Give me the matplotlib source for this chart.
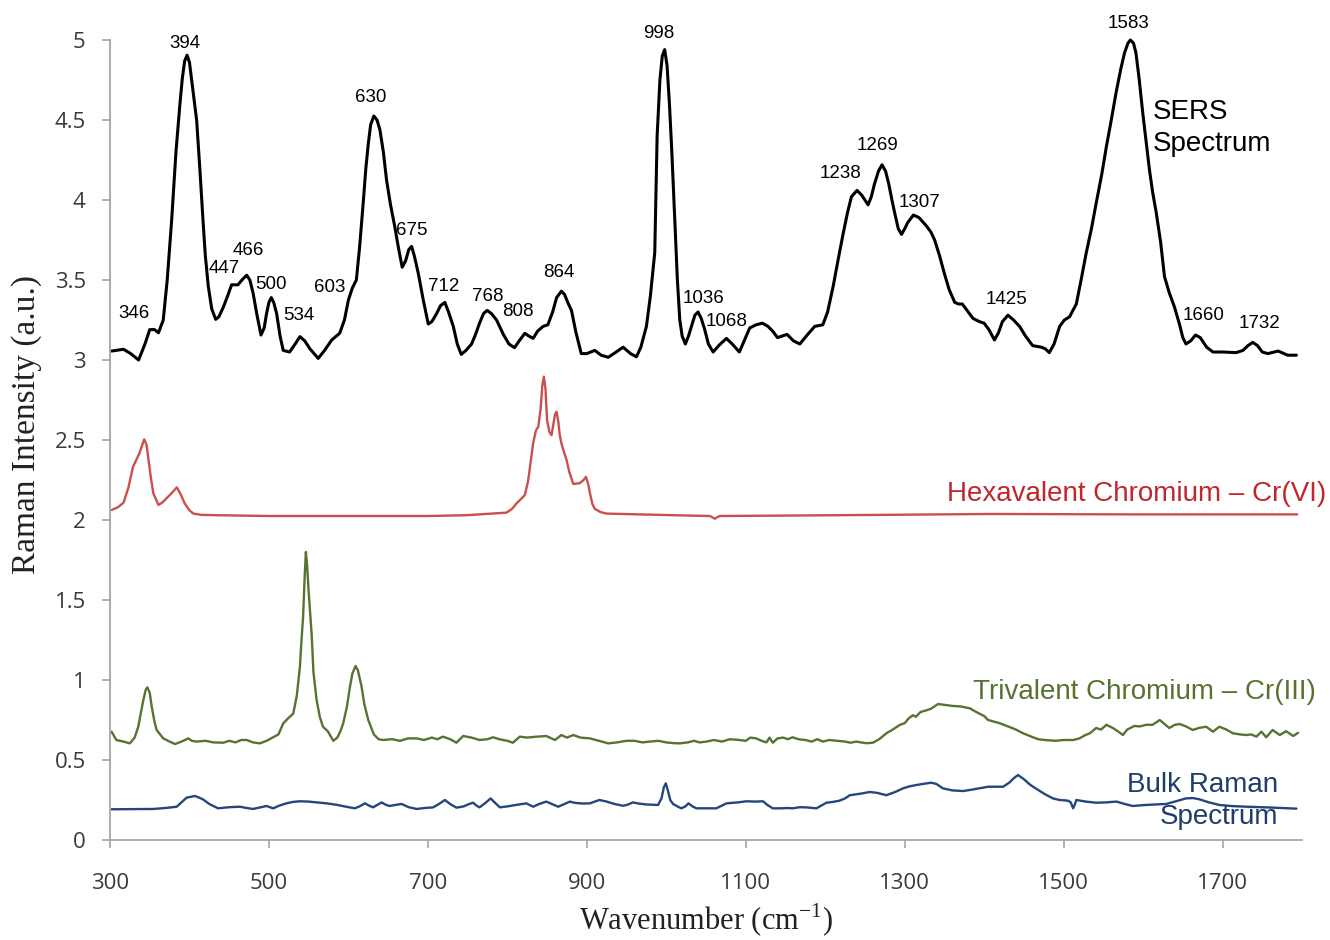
import matplotlib
matplotlib.use("Agg")
import matplotlib.pyplot as plt
from matplotlib.ticker import FuncFormatter

# ---------------- data ----------------
sers_x = [302, 317, 326, 336, 344, 350, 356, 361, 367, 372, 377.6, 383, 388, 391, 394, 397, 400, 403, 409, 413, 417,
          420, 423.7, 428, 433, 437, 442.6, 448, 453, 461, 466, 472, 476, 480, 485, 490, 494, 497, 500, 503, 506,
          509.7, 514, 518, 526, 533, 539, 545, 551.6, 562, 570, 579, 589, 595, 600, 605, 610, 614, 618.6, 622, 625,
          628, 632, 636, 639.6, 644, 648, 653, 658.5, 663, 667.7, 672, 676, 679.5, 683, 688, 694, 700.5, 705, 711,
          716, 721.4, 726, 732, 737, 742, 748, 755, 760, 765, 770, 774.6, 780, 786.4, 795, 802, 809, 815, 822, 827,
          832.5, 838, 845, 851, 857, 862, 868, 872, 876, 880.7, 886, 893, 900, 910, 918, 927, 937, 945.7, 955,
          962.5, 968, 975, 980, 985.5, 988.5, 992, 995, 998, 1001, 1004, 1007, 1010.7, 1014, 1017, 1020, 1024,
          1028, 1031.7, 1036, 1040, 1044, 1048.4, 1053, 1059, 1066, 1075.7, 1083, 1092, 1098, 1105, 1113, 1121,
          1128, 1134, 1140, 1146, 1152, 1160, 1168, 1178, 1186.8, 1197, 1203, 1210, 1216, 1222.6, 1228, 1233,
          1240, 1246, 1254, 1258, 1262, 1267, 1271.5, 1276, 1280, 1284, 1287.4, 1292, 1296, 1300, 1304, 1311,
          1318, 1327, 1333, 1337.7, 1344, 1350, 1356, 1363, 1368, 1372.5, 1380, 1386, 1394, 1400, 1406, 1413,
          1418, 1423, 1430, 1437, 1444.6, 1452, 1461, 1472, 1477, 1482, 1488, 1495, 1501, 1507.5, 1516, 1522,
          1528.5, 1535, 1541, 1548, 1553.7, 1560, 1566, 1572, 1576.7, 1581, 1584, 1588, 1591, 1595, 1599.7, 1604,
          1608, 1612, 1616.6, 1622, 1627, 1633, 1639.6, 1646, 1650, 1654, 1660, 1666, 1672, 1680, 1688, 1700,
          1717, 1725.7, 1732, 1738, 1744, 1750, 1757, 1770, 1782, 1793]
sers_y = [3.056, 3.067, 3.04, 3.00, 3.10, 3.19, 3.19, 3.17, 3.25, 3.50, 3.875, 4.30, 4.60, 4.76, 4.87, 4.905, 4.86,
          4.74, 4.50, 4.20, 3.875, 3.65, 3.46, 3.32, 3.254, 3.27, 3.33, 3.40, 3.47, 3.47, 3.50, 3.53, 3.50, 3.42,
          3.28, 3.156, 3.20, 3.29, 3.36, 3.39, 3.36, 3.29, 3.15, 3.06, 3.05, 3.10, 3.146, 3.12, 3.07, 3.01, 3.06,
          3.125, 3.167, 3.25, 3.375, 3.45, 3.50, 3.70, 3.98, 4.20, 4.35, 4.47, 4.525, 4.50, 4.44, 4.30, 4.125,
          3.97, 3.83, 3.70, 3.58, 3.62, 3.69, 3.71, 3.65, 3.54, 3.38, 3.225, 3.24, 3.29, 3.34, 3.36, 3.30, 3.21,
          3.10, 3.035, 3.06, 3.10, 3.16, 3.23, 3.29, 3.31, 3.29, 3.25, 3.16, 3.10, 3.077, 3.12, 3.167, 3.15,
          3.135, 3.18, 3.21, 3.22, 3.30, 3.39, 3.43, 3.41, 3.36, 3.31, 3.18, 3.04, 3.04, 3.06, 3.03, 3.017, 3.05,
          3.08, 3.04, 3.02, 3.08, 3.21, 3.40, 3.67, 4.40, 4.75, 4.90, 4.94, 4.84, 4.60, 4.30, 3.875, 3.50, 3.25,
          3.15, 3.10, 3.15, 3.21, 3.28, 3.30, 3.26, 3.19, 3.10, 3.05, 3.09, 3.135, 3.10, 3.05, 3.12, 3.20, 3.22,
          3.23, 3.21, 3.18, 3.14, 3.15, 3.16, 3.12, 3.10, 3.16, 3.21, 3.22, 3.30, 3.46, 3.62, 3.79, 3.92, 4.02,
          4.06, 4.03, 3.97, 4.02, 4.10, 4.18, 4.22, 4.18, 4.10, 4.00, 3.92, 3.82, 3.785, 3.82, 3.86, 3.906, 3.89,
          3.84, 3.80, 3.75, 3.65, 3.54, 3.44, 3.36, 3.35, 3.35, 3.30, 3.26, 3.24, 3.23, 3.19, 3.125, 3.17, 3.24,
          3.28, 3.25, 3.21, 3.15, 3.09, 3.08, 3.07, 3.046, 3.10, 3.21, 3.25, 3.27, 3.35, 3.50, 3.67, 3.82, 3.98,
          4.16, 4.33, 4.50, 4.67, 4.82, 4.92, 4.98, 5.00, 4.98, 4.92, 4.76, 4.54, 4.36, 4.19, 4.05, 3.92, 3.74,
          3.52, 3.42, 3.33, 3.22, 3.14, 3.10, 3.12, 3.156, 3.14, 3.08, 3.05, 3.05, 3.046, 3.06, 3.09, 3.11, 3.09,
          3.05, 3.04, 3.056, 3.03, 3.03]

cr6_x = [302, 310, 317, 323, 329, 337, 343, 346, 348, 351, 354.5, 361, 366, 371, 378, 384, 389, 394, 400, 405, 415,
         434, 500, 581, 700, 749, 799, 806, 811.6, 817, 822, 826, 828, 832.5, 836, 839, 842, 844, 846, 848, 850,
         853, 855.6, 858, 860, 862, 864, 866, 868, 871, 874.5, 878, 883, 891, 896, 899, 902, 904, 907, 910, 917,
         925, 1008.6, 1055, 1061, 1067, 1218, 1407, 1600, 1794]
cr6_y = [2.0625, 2.08, 2.108, 2.20, 2.333, 2.417, 2.504, 2.47, 2.395, 2.28, 2.167, 2.094, 2.11, 2.135, 2.17, 2.204,
         2.16, 2.104, 2.06, 2.04, 2.032, 2.03, 2.025, 2.025, 2.025, 2.03, 2.046, 2.07, 2.104, 2.13, 2.156, 2.24,
         2.3125, 2.48, 2.56, 2.583, 2.70, 2.84, 2.896, 2.82, 2.625, 2.55, 2.53, 2.60, 2.66, 2.677, 2.62, 2.53,
         2.48, 2.43, 2.375, 2.30, 2.225, 2.23, 2.25, 2.27, 2.22, 2.167, 2.10, 2.07, 2.05, 2.04, 2.03, 2.025,
         2.008, 2.025, 2.03, 2.0375, 2.035, 2.035]

cr3_x = [302, 308, 317, 325, 331, 335.6, 339, 342, 345, 347, 350, 352.5, 356, 358.7, 367, 375, 381.8, 390, 398.5,
         403, 409, 420, 430, 442.6, 450, 458, 465, 472, 480, 488.7, 497, 505.4, 512, 518, 524, 530.6, 535, 539,
         541, 543, 545, 546.5, 548, 550, 553.7, 556, 560, 564, 568, 574, 581, 586, 590, 593.5, 598, 602, 605,
         609, 612, 616.6, 620, 625, 632, 638, 643.8, 655, 665, 675, 686, 695, 705, 712, 719, 728, 736, 744.4,
         755, 765, 775, 782, 790, 800, 807, 815.7, 825, 835, 849, 860, 868, 875, 883, 892, 904, 915, 927, 938,
         950, 960, 970, 979, 990, 1000, 1010, 1017, 1027, 1035, 1042, 1050.6, 1060, 1070, 1080, 1092, 1100,
         1106, 1113, 1120, 1126, 1130, 1134, 1140, 1147, 1153, 1159, 1166, 1175, 1183, 1190, 1197, 1205, 1215,
         1225, 1232, 1239, 1245, 1252, 1260, 1268, 1277, 1285, 1294, 1300, 1305, 1310.5, 1314, 1320, 1327,
         1333, 1342, 1350, 1361, 1370, 1382, 1390, 1394, 1400, 1405, 1412, 1419.5, 1430, 1440, 1449, 1460,
         1468, 1476, 1490, 1500, 1512, 1520, 1527, 1533, 1541, 1547, 1554, 1558, 1562, 1568, 1574.7, 1580,
         1589, 1596, 1604, 1612, 1621, 1627, 1633, 1640, 1646, 1654, 1662.6, 1670, 1679.5, 1688, 1696, 1705,
         1713, 1722, 1730, 1736, 1742.6, 1749, 1755, 1763, 1772, 1780, 1789, 1795]
cr3_y = [0.677, 0.625, 0.615, 0.604, 0.64, 0.708, 0.80, 0.875, 0.94, 0.954, 0.92, 0.833, 0.74, 0.6875, 0.635, 0.615,
         0.60, 0.615, 0.635, 0.62, 0.615, 0.62, 0.61, 0.608, 0.62, 0.61, 0.625, 0.625, 0.61, 0.604, 0.62, 0.642,
         0.66, 0.729, 0.76, 0.79, 0.90, 1.083, 1.25, 1.396, 1.65, 1.80, 1.72, 1.55, 1.29, 1.05, 0.875, 0.77,
         0.708, 0.68, 0.62, 0.64, 0.68, 0.73, 0.83, 0.958, 1.04, 1.0875, 1.06, 0.958, 0.85, 0.75, 0.66, 0.63,
         0.625, 0.63, 0.62, 0.635, 0.635, 0.625, 0.64, 0.63, 0.646, 0.63, 0.608, 0.65, 0.64, 0.625, 0.63, 0.642,
         0.63, 0.62, 0.608, 0.646, 0.64, 0.645, 0.65, 0.625, 0.656, 0.64, 0.656, 0.64, 0.635, 0.62, 0.604,
         0.61, 0.62, 0.62, 0.61, 0.615, 0.62, 0.61, 0.605, 0.604, 0.61, 0.62, 0.61, 0.615, 0.625, 0.615, 0.63,
         0.625, 0.62, 0.64, 0.635, 0.62, 0.61, 0.64, 0.608, 0.635, 0.64, 0.63, 0.642, 0.63, 0.625, 0.615, 0.63,
         0.615, 0.625, 0.62, 0.615, 0.608, 0.615, 0.61, 0.605, 0.608, 0.63, 0.667, 0.69, 0.72, 0.73, 0.76,
         0.78, 0.77, 0.80, 0.81, 0.82, 0.85, 0.845, 0.8375, 0.835, 0.823, 0.80, 0.79, 0.775, 0.75, 0.74, 0.73,
         0.71, 0.69, 0.667, 0.645, 0.63, 0.625, 0.62, 0.625, 0.625, 0.635, 0.655, 0.667, 0.70, 0.69, 0.72,
         0.71, 0.70, 0.68, 0.656, 0.69, 0.7125, 0.71, 0.72, 0.72, 0.75, 0.725, 0.70, 0.72, 0.725, 0.71, 0.6875,
         0.70, 0.708, 0.677, 0.708, 0.69, 0.667, 0.66, 0.656, 0.66, 0.646, 0.677, 0.642, 0.6875, 0.656, 0.68,
         0.65, 0.67]

bulk_x = [302, 330, 354.5, 370, 384, 390, 396.5, 407, 412, 417, 425, 436, 450, 463.5, 472, 480, 490, 497, 501,
          505.4, 513, 522, 530, 539, 550, 560, 572.6, 585, 595, 608, 614, 620.8, 626, 631, 636, 641.8, 647, 652,
          660, 667, 676, 686, 696, 706.7, 714, 721.4, 728, 736, 745, 752, 757, 761, 765, 772, 779, 784, 790.6,
          800, 812, 824, 832.5, 840, 849, 856, 864, 872, 878.6, 885, 895, 904, 910, 916, 925, 935, 945.7, 951,
          958, 965, 975, 989.7, 994, 997, 999.4, 1002, 1005, 1008.6, 1014, 1019, 1024, 1028, 1033, 1038, 1050,
          1063, 1070, 1075.7, 1090, 1101, 1112, 1121.8, 1127, 1134, 1145, 1152, 1159, 1168, 1176, 1189, 1195,
          1201.5, 1210, 1218, 1225, 1231, 1245, 1256, 1265, 1277, 1288, 1298, 1306, 1315, 1325, 1333.6, 1340,
          1348, 1360, 1373.6, 1385, 1394, 1405, 1424, 1432, 1437, 1442.7, 1450, 1458, 1468, 1477, 1486.6, 1495,
          1505.5, 1509, 1512, 1514, 1516, 1528, 1541, 1553, 1566.5, 1577, 1587, 1600, 1615, 1629, 1640, 1654,
          1663, 1671, 1683, 1696, 1712, 1730, 1760, 1793]
bulk_y = [0.192, 0.193, 0.194, 0.20, 0.208, 0.235, 0.265, 0.275, 0.265, 0.254, 0.225, 0.198, 0.205, 0.208, 0.20,
          0.194, 0.205, 0.2125, 0.205, 0.198, 0.215, 0.229, 0.238, 0.242, 0.24, 0.235, 0.229, 0.22, 0.21, 0.198,
          0.21, 0.229, 0.215, 0.204, 0.218, 0.235, 0.22, 0.2125, 0.22, 0.225, 0.205, 0.194, 0.20, 0.204, 0.225,
          0.25, 0.225, 0.202, 0.21, 0.225, 0.233, 0.215, 0.204, 0.23, 0.26, 0.235, 0.204, 0.21, 0.22, 0.229,
          0.208, 0.225, 0.24, 0.225, 0.208, 0.225, 0.24, 0.232, 0.228, 0.229, 0.24, 0.25, 0.24, 0.225, 0.214,
          0.22, 0.235, 0.228, 0.222, 0.219, 0.26, 0.33, 0.354, 0.31, 0.25, 0.225, 0.21, 0.198, 0.21, 0.229, 0.21,
          0.198, 0.198, 0.198, 0.215, 0.229, 0.235, 0.242, 0.24, 0.242, 0.22, 0.198, 0.198, 0.20, 0.198, 0.205,
          0.204, 0.198, 0.215, 0.233, 0.238, 0.246, 0.26, 0.28, 0.29, 0.30, 0.295, 0.28, 0.30, 0.323, 0.335,
          0.344, 0.352, 0.358, 0.35, 0.323, 0.31, 0.306, 0.315, 0.323, 0.333, 0.333, 0.36, 0.385, 0.406, 0.38,
          0.345, 0.3125, 0.285, 0.26, 0.25, 0.246, 0.235, 0.198, 0.22, 0.25, 0.24, 0.233, 0.235, 0.24, 0.225,
          0.2125, 0.218, 0.222, 0.225, 0.24, 0.26, 0.262, 0.254, 0.235, 0.219, 0.212, 0.208, 0.203, 0.196]

peak_labels = ["346", "394", "447", "466", "500", "534", "603", "630", "675", "712", "768", "808", "864",
               "998", "1036", "1068", "1238", "1269", "1307", "1425", "1583", "1660", "1732"]
# label anchor positions (data coordinates, text centre)
label_pos_x = [330.5, 394.3, 443.4, 474.2, 502.0, 537.7, 577.0, 628.3, 679.5, 720.1, 775.5, 813.8, 865.0,
               990.0, 1047.2, 1075.4, 1219.0, 1266.0, 1318.9, 1428.3, 1581.5, 1675.5, 1747.0]
label_pos_y = [3.290, 4.978, 3.572, 3.684, 3.472, 3.278, 3.453, 4.641, 3.809, 3.459, 3.397, 3.303, 3.547,
               5.038, 3.387, 3.240, 4.163, 4.339, 3.984, 3.381, 5.106, 3.278, 3.225]

series_names = ["SERS\nSpectrum", "Hexavalent Chromium \u2013 Cr(VI)",
                "Trivalent Chromium \u2013 Cr(III)", "Bulk Raman\nSpectrum"]

x_ticks = [300, 500, 700, 900, 1100, 1300, 1500, 1700]
y_ticks = [0, 0.5, 1, 1.5, 2, 2.5, 3, 3.5, 4, 4.5, 5]

# ---------------- figure ----------------
W, H = 1330, 940
fig = plt.figure(figsize=(W / 100, H / 100), dpi=100)
ax = fig.add_axes([110 / W, 100 / H, 1192 / W, 800 / H])

lkw = dict(solid_joinstyle="round", solid_capstyle="round", clip_on=False)
ax.plot(bulk_x, bulk_y, color="#24467A", lw=1.7, **lkw)
ax.plot(cr3_x, cr3_y, color="#587230", lw=1.7, **lkw)
ax.plot(cr6_x, cr6_y, color="#C9504F", lw=1.7, **lkw)
ax.plot(sers_x, sers_y, color="black", lw=2.2, **lkw)

sans = "Liberation Sans"
for t, lx, ly in zip(peak_labels, label_pos_x, label_pos_y):
    ax.text(lx, ly, t, ha="center", va="center", fontsize=13.5, family=sans, color="black", clip_on=False)

ax.text(1612, 4.45, series_names[0], ha="left", va="center",
        fontsize=20, family=sans, color="black", linespacing=1.32, clip_on=False)
ax.text(1831, 2.1625, series_names[1], ha="right", va="center",
        fontsize=20, family=sans, color="#C0272D", clip_on=False)
ax.text(1818, 0.925, series_names[2], ha="right", va="center",
        fontsize=20, family=sans, color="#587230", clip_on=False)
ax.text(1770, 0.245, series_names[3], ha="right", va="center", multialignment="right",
        fontsize=20, family=sans, color="#1F3D6B", linespacing=1.32, clip_on=False)

ax.set_xlim(300, 1800)
ax.set_ylim(0, 5)
ax.set_xticks(x_ticks)
ax.set_yticks(y_ticks)
ax.yaxis.set_major_formatter(FuncFormatter(lambda v, p: f"{v:g}"))

for s in ["top", "right"]:
    ax.spines[s].set_visible(False)
for s in ["left", "bottom"]:
    ax.spines[s].set_color("#A6A6A6")
    ax.spines[s].set_linewidth(1.3)

ax.tick_params(axis="both", direction="out", color="#A6A6A6", width=1.2, labelcolor="#3A3A3A", labelsize=16)
ax.tick_params(axis="x", length=5.5, pad=18)
ax.tick_params(axis="y", length=5.5, pad=12)
for lab in ax.get_xticklabels() + ax.get_yticklabels():
    lab.set_family("Open Sans")

plt.rcParams["mathtext.fontset"] = "custom"
plt.rcParams["mathtext.rm"] = "Liberation Serif"
ax.set_xlabel(r"Wavenumber (cm$^{\mathregular{-1}}$)", family="Liberation Serif", fontsize=22, color="#222222")
ax.xaxis.set_label_coords(0.5, -0.077)
ax.set_ylabel("Raman Intensity (a.u.)", family="Liberation Serif", fontsize=24, color="#222222")
ax.yaxis.set_label_coords(-0.057, 0.52)

fig.savefig("out.png", dpi=100, facecolor="white")
